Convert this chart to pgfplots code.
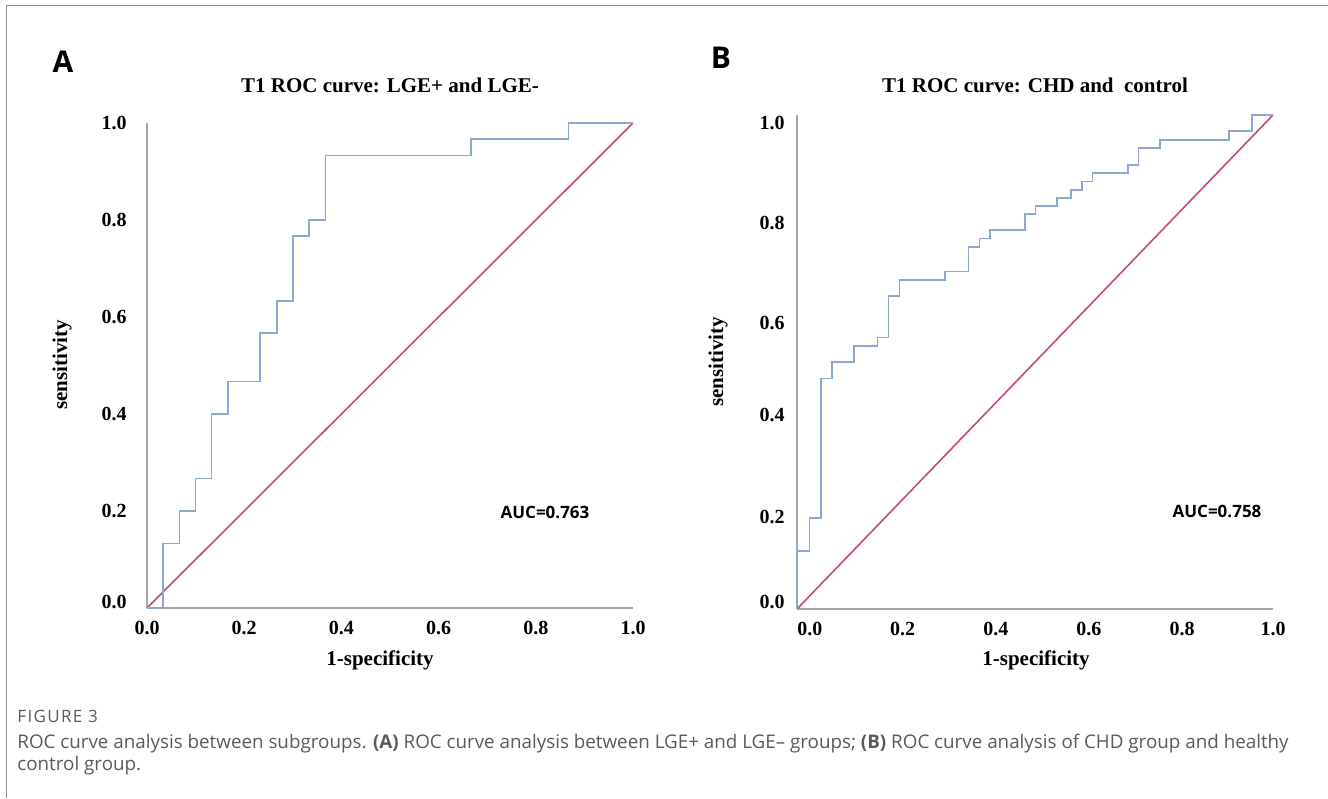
\documentclass[border=0pt]{standalone}
\usepackage{pgfplots}
\pgfplotsset{compat=1.18}
\usepackage{fontspec}
\setmainfont{Liberation Serif}
\newfontfamily\capfont{Open Sans}
\definecolor{rocblue}{RGB}{140,168,208}
\definecolor{rocred}{RGB}{196,76,106}
\definecolor{axgray}{RGB}{165,165,165}
\definecolor{capgray}{RGB}{90,90,90}
\definecolor{framegray}{RGB}{140,140,140}

\pgfplotsset{
  roc/.style={
    scale only axis, anchor=south west,
    xmin=0, xmax=1, ymin=0, ymax=1,
    axis x line*=bottom, axis y line*=left,
    axis line style={-, draw=axgray, line width=1pt},
    major tick length=0pt, clip=false,
    ticklabel style={font=\fontsize{10}{12}\selectfont\bfseries, inner sep=0pt},
    xticklabel style={anchor=north, yshift=-6.5pt},
    xticklabels={0.0,0.2,0.4,0.6,0.8,1.0},
    yticklabels={0.0,0.2,0.4,0.6,0.8,1.0},
  },
  curve/.style={draw=rocblue, line width=0.8pt, no marks},
  diag/.style={draw=rocred, line width=0.8pt, no marks},
}

\begin{document}
\begin{tikzpicture}
\useasboundingbox (0,0) rectangle (664pt,-399pt);
\draw[framegray, line width=0.5pt] (3pt,-399pt) -- (3pt,-2.5pt) -- (664pt,-2.5pt);

% panel A
\begin{axis}[roc, at={(73.5pt,-304pt)}, width=243pt, height=242.5pt,
  xtick={0,0.2,0.4,0.6,0.8,1}, ytick={0.013,0.2,0.4,0.6,0.8,1},
  yticklabel style={anchor=east, xshift=-10pt}]
\addplot[diag] coordinates {(0,0) (1,1)};
\addplot[curve] coordinates {
  (0,0) (0.033,0) (0.033,0.133) (0.067,0.133) (0.067,0.2) (0.1,0.2)
  (0.1,0.267) (0.133,0.267) (0.133,0.4) (0.167,0.4) (0.167,0.467)
  (0.233,0.467) (0.233,0.567) (0.267,0.567) (0.267,0.633) (0.3,0.633)
  (0.3,0.767) (0.333,0.767) (0.333,0.8) (0.367,0.8) (0.367,0.933)
  (0.667,0.933) (0.667,0.967) (0.867,0.967) (0.867,1) (1,1)};
\end{axis}

% panel B
\begin{axis}[roc, at={(398.5pt,-304.5pt)}, width=238pt, height=247pt,
  xtick={0.027,0.222,0.418,0.613,0.809,1}, ytick={0.014,0.186,0.393,0.579,0.781,0.984},
  yticklabel style={anchor=east, xshift=-6pt}]
\addplot[diag] coordinates {(0,0) (1,1)};
\addplot[curve] coordinates {
  (0,0) (0,0.118) (0.026,0.118) (0.026,0.184) (0.05,0.184) (0.05,0.467)
  (0.074,0.467) (0.074,0.5) (0.12,0.5) (0.12,0.533) (0.169,0.533)
  (0.169,0.55) (0.192,0.55) (0.192,0.634) (0.215,0.634) (0.215,0.666)
  (0.311,0.666) (0.311,0.683) (0.36,0.683) (0.36,0.733) (0.383,0.733)
  (0.383,0.75) (0.405,0.75) (0.405,0.767) (0.479,0.767) (0.479,0.8)
  (0.501,0.8) (0.501,0.816) (0.546,0.816) (0.546,0.832) (0.575,0.832)
  (0.575,0.848) (0.599,0.848) (0.599,0.865) (0.621,0.865) (0.621,0.882)
  (0.695,0.882) (0.695,0.899) (0.717,0.899) (0.717,0.933) (0.763,0.933)
  (0.763,0.949) (0.908,0.949) (0.908,0.968) (0.956,0.968) (0.956,1) (1,1)};
\end{axis}

% panel letters and titles
\node[font=\capfont\bfseries\fontsize{15}{18}\selectfont] at (31.5pt,-31pt) {A};
\node[font=\capfont\bfseries\fontsize{15}{18}\selectfont] at (360.5pt,-29pt) {B};
\node[font=\bfseries\fontsize{10.5}{12}\selectfont] at (195pt,-42.5pt) {T1 ROC curve: LGE+ and LGE-};
\node[font=\bfseries\fontsize{10.5}{12}\selectfont] at (517.5pt,-42.5pt) {T1 ROC curve: CHD and\ \ control};

% axis titles
\node[font=\bfseries\fontsize{10.5}{12}\selectfont] at (190pt,-330pt) {1-specificity};
\node[font=\bfseries\fontsize{10.5}{12}\selectfont] at (518pt,-330pt) {1-specificity};
\node[font=\bfseries\fontsize{10.5}{12}\selectfont, rotate=90] at (31pt,-182.5pt) {sensitivity};
\node[font=\bfseries\fontsize{10.5}{12}\selectfont, rotate=90] at (359pt,-181pt) {sensitivity};

% AUC
\node[font=\capfont\bfseries\fontsize{8.5}{10}\selectfont] at (272.5pt,-256pt) {AUC=0.763};
\node[font=\capfont\bfseries\fontsize{8.5}{10}\selectfont] at (608.5pt,-255.5pt) {AUC=0.758};

% caption
\node[anchor=base west, inner sep=0pt, text=capgray, font=\capfont\fontsize{8.5}{10}\selectfont\addfontfeatures{LetterSpace=8}] at (8.5pt,-361pt) {FIGURE 3};
\node[anchor=base west, inner sep=0pt, text=capgray, font=\capfont\fontsize{9.4}{11}\selectfont] at (8.5pt,-374pt)
  {ROC curve analysis between subgroups. {\bfseries(A)} ROC curve analysis between LGE+ and LGE– groups; {\bfseries(B)} ROC curve analysis of CHD group and healthy};
\node[anchor=base west, inner sep=0pt, text=capgray, font=\capfont\fontsize{9.4}{11}\selectfont] at (8.5pt,-385pt)
  {control group.};
\end{tikzpicture}
\end{document}
